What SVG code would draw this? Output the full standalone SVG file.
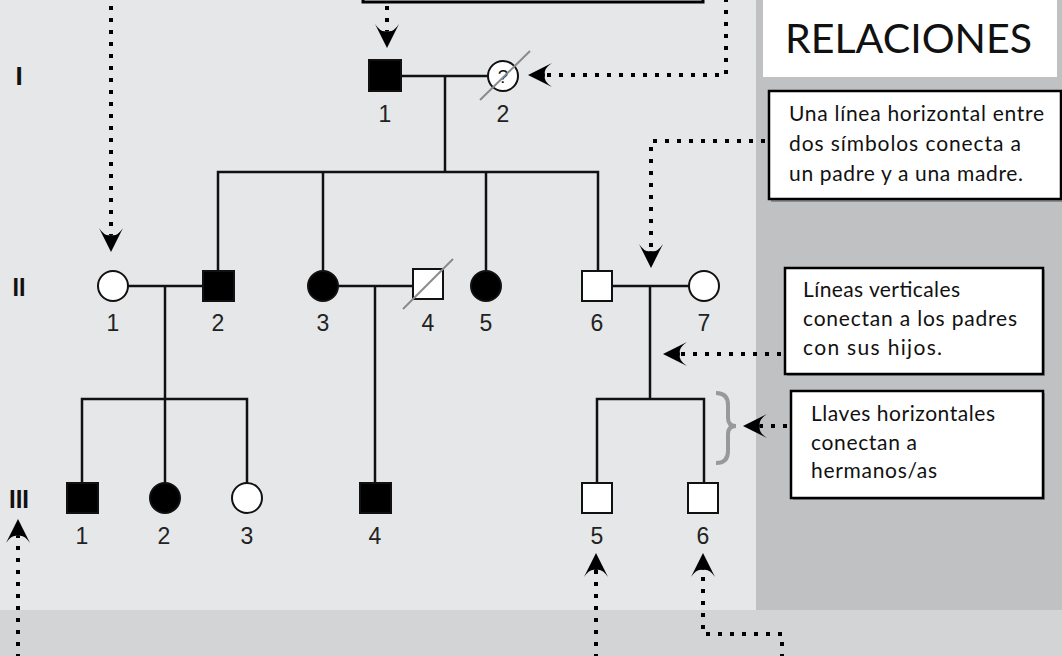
<svg xmlns="http://www.w3.org/2000/svg" width="1062" height="656" viewBox="0 0 1062 656">
  <style>
    .line { fill: none; stroke: #111; stroke-width: 2.5; }
    .sym { stroke: #111; stroke-width: 2; }
    .aff { fill: #000; }
    .un { fill: #fff; }
    .slash { stroke: #8a8a8a; stroke-width: 2; }
    .num { font-family: "Liberation Sans", Arial, sans-serif; font-size: 23px; fill: #222; text-anchor: middle; }
    .gen { font-family: "Liberation Sans", Arial, sans-serif; font-size: 26px; font-weight: bold; fill: #111; text-anchor: middle; }
    .dots { fill: none; stroke: #000; stroke-width: 4; stroke-dasharray: 4 8; marker-end: url(#dart); }
    .box { fill: #fff; stroke: #000; stroke-width: 2.5; }
    .shadow { fill: #8c8c8c; }
    .note { font-family: Lato, "Open Sans", sans-serif; font-size: 21px; fill: #111; }
  </style>
  <defs>
    <marker id="dart" viewBox="0 0 24 24" refX="7" refY="12" markerWidth="24" markerHeight="24" markerUnits="userSpaceOnUse" orient="auto">
      <path d="M24,12 L0,0 Q9,6 7,12 Q9,18 0,24 Z" fill="#000"/>
    </marker>
  </defs>

  <!-- backgrounds -->
  <rect x="0" y="0" width="1062" height="656" fill="#e6e7e9"/>
  <rect x="756" y="0" width="306" height="610" fill="#c0c1c3"/>
  <rect x="0" y="610" width="1062" height="46" fill="#d3d4d6"/>

  <!-- note box at top, only its lower edge shows -->
  <rect x="363" y="-30" width="340" height="32" fill="#fff" stroke="#000" stroke-width="3"/>

  <!-- title -->
  <g id="title">
    <rect x="763" y="0" width="294" height="77" fill="#fff"/>
    <text x="785" y="53" font-family="Lato, 'Open Sans', sans-serif" font-size="41" fill="#111" textLength="247" lengthAdjust="spacingAndGlyphs">RELACIONES</text>
  </g>

  <!-- explanation boxes -->
  <g id="note-horizontal">
    <rect class="shadow" x="771" y="93" width="292" height="109"/>
    <rect class="box" x="769" y="91" width="292" height="108"/>
    <text class="note" x="789" y="121" textLength="255" lengthAdjust="spacing">Una línea horizontal entre</text>
    <text class="note" x="789" y="151" textLength="232" lengthAdjust="spacing">dos símbolos conecta a</text>
    <text class="note" x="789" y="181" textLength="234" lengthAdjust="spacing">un padre y a una madre.</text>
  </g>
  <g id="note-vertical">
    <rect class="shadow" x="787" y="270" width="258" height="106"/>
    <rect class="box" x="785" y="268" width="258" height="106"/>
    <text class="note" x="803" y="297" textLength="157" lengthAdjust="spacing">Líneas verticales</text>
    <text class="note" x="803" y="326" textLength="214" lengthAdjust="spacing">conectan a los padres</text>
    <text class="note" x="803" y="355" textLength="139" lengthAdjust="spacing">con sus hijos.</text>
  </g>
  <g id="note-siblings">
    <rect class="shadow" x="793" y="393" width="252" height="107"/>
    <rect class="box" x="791" y="391" width="252" height="107"/>
    <text class="note" x="811" y="421" textLength="184" lengthAdjust="spacing">Llaves horizontales</text>
    <text class="note" x="811" y="450" textLength="106" lengthAdjust="spacing">conectan a</text>
    <text class="note" x="811" y="478" textLength="126" lengthAdjust="spacing">hermanos/as</text>
  </g>

  <!-- generation labels -->
  <g id="generations">
    <text class="gen" x="19" y="85">I</text>
    <text class="gen" x="19" y="296" textLength="13" lengthAdjust="spacingAndGlyphs">II</text>
    <text class="gen" x="19" y="508" textLength="20" lengthAdjust="spacingAndGlyphs">III</text>
  </g>

  <!-- pedigree connectors -->
  <g id="connectors">
    <path class="line" d="M401,76 H488"/>
    <path class="line" d="M445,76 V172"/>
    <path class="line" d="M218,270 V172 H598 V271"/>
    <path class="line" d="M323,172 V271"/>
    <path class="line" d="M486,172 V271"/>
    <path class="line" d="M128,286 H203"/>
    <path class="line" d="M165,286 V399"/>
    <path class="line" d="M82,483 V399 H247 V483"/>
    <path class="line" d="M165,399 V483"/>
    <path class="line" d="M338,286 H413"/>
    <path class="line" d="M375,286 V483"/>
    <path class="line" d="M612,286 H689"/>
    <path class="line" d="M650,286 V399"/>
    <path class="line" d="M597,483 V399 H704 V483"/>
    <path d="M716,393 Q728,393 728,405 V418 Q728,426 736,426 Q728,426 728,434 V451 Q728,463 716,463" fill="none" stroke="#999" stroke-width="4"/>
  </g>

  <!-- generation I -->
  <g id="I-1"><rect class="sym aff" x="369" y="60" width="32" height="31"/><text class="num" x="385" y="122">1</text></g>
  <g id="I-2">
    <circle class="sym un" cx="503" cy="76" r="15"/>
    <text x="503" y="83" font-family="Liberation Sans, Arial, sans-serif" font-size="19" fill="#111" text-anchor="middle">?</text>
    <line class="slash" x1="480" y1="100" x2="530" y2="51"/>
    <text class="num" x="503" y="122">2</text>
  </g>

  <!-- generation II -->
  <g id="II-1"><circle class="sym un" cx="113" cy="286" r="15"/><text class="num" x="113" y="331">1</text></g>
  <g id="II-2"><rect class="sym aff" x="203" y="271" width="31" height="30"/><text class="num" x="218" y="331">2</text></g>
  <g id="II-3"><circle class="sym aff" cx="323" cy="286" r="15"/><text class="num" x="323" y="331">3</text></g>
  <g id="II-4">
    <rect class="sym un" x="413" y="269" width="30" height="30"/>
    <line class="slash" x1="403" y1="309" x2="453" y2="259"/>
    <text class="num" x="428" y="331">4</text>
  </g>
  <g id="II-5"><circle class="sym aff" cx="486" cy="286" r="15"/><text class="num" x="486" y="331">5</text></g>
  <g id="II-6"><rect class="sym un" x="582" y="271" width="30" height="30"/><text class="num" x="597" y="331">6</text></g>
  <g id="II-7"><circle class="sym un" cx="704" cy="286" r="15"/><text class="num" x="704" y="331">7</text></g>

  <!-- generation III -->
  <g id="III-1"><rect class="sym aff" x="67" y="483" width="31" height="30"/><text class="num" x="82" y="544">1</text></g>
  <g id="III-2"><circle class="sym aff" cx="165" cy="498" r="15"/><text class="num" x="164" y="544">2</text></g>
  <g id="III-3"><circle class="sym un" cx="247" cy="498" r="15"/><text class="num" x="247" y="544">3</text></g>
  <g id="III-4"><rect class="sym aff" x="360" y="483" width="31" height="30"/><text class="num" x="375" y="544">4</text></g>
  <g id="III-5"><rect class="sym un" x="582" y="483" width="30" height="30"/><text class="num" x="597" y="544">5</text></g>
  <g id="III-6"><rect class="sym un" x="688" y="483" width="30" height="30"/><text class="num" x="703" y="544">6</text></g>

  <!-- dotted pointer arrows -->
  <g id="pointers">
    <path class="dots" d="M111,6 V235"/>
    <path class="dots" d="M387,6 V31"/>
    <path class="dots" d="M726,-2 V75 H545"/>
    <path class="dots" d="M765,141 H651 V251"/>
    <path class="dots" d="M781,354 H680"/>
    <path class="dots" d="M787,426 H760"/>
    <path class="dots" d="M18,658 V536"/>
    <path class="dots" d="M596,658 V570"/>
    <path class="dots" d="M782,658 V634 H703 V570"/>
  </g>
</svg>
